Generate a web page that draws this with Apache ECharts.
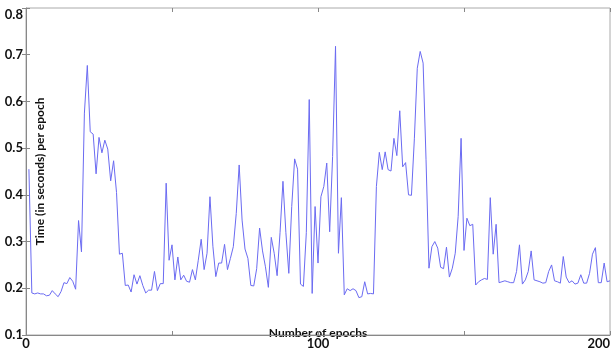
<!DOCTYPE html>
<html>
<head>
<meta charset="utf-8">
<script src="https://cdn.jsdelivr.net/npm/echarts@6/dist/echarts.min.js"></script>
<style>
html, body { margin: 0; padding: 0; background: #fff; }
#chart { width: 614px; height: 350px; }
</style>
</head>
<body>
<div id="chart"></div>
<script>
// time per epoch, epochs 1..200
var epochTimes = [
	0.455, 0.19, 0.188, 0.19, 0.188, 0.188, 0.184, 0.185, 0.195, 0.188,
	0.182, 0.193, 0.212, 0.21, 0.223, 0.215, 0.198, 0.345, 0.278, 0.575,
	0.677, 0.535, 0.53, 0.445, 0.523, 0.49, 0.517, 0.498, 0.43, 0.473,
	0.405, 0.273, 0.275, 0.206, 0.207, 0.192, 0.229, 0.209, 0.227, 0.206,
	0.19, 0.196, 0.196, 0.236, 0.195, 0.21, 0.21, 0.425, 0.26, 0.293,
	0.218, 0.267, 0.218, 0.228, 0.215, 0.213, 0.24, 0.218, 0.26, 0.305,
	0.24, 0.275, 0.396, 0.29, 0.225, 0.254, 0.254, 0.294, 0.24, 0.264,
	0.289, 0.36, 0.464, 0.346, 0.284, 0.264, 0.206, 0.205, 0.242, 0.329,
	0.28, 0.246, 0.202, 0.309, 0.275, 0.227, 0.319, 0.429, 0.319, 0.232,
	0.375, 0.477, 0.455, 0.209, 0.204, 0.319, 0.604, 0.189, 0.375, 0.254,
	0.396, 0.418, 0.468, 0.321, 0.482, 0.718, 0.275, 0.394, 0.186, 0.199,
	0.195, 0.199, 0.195, 0.18, 0.182, 0.214, 0.188, 0.189, 0.188, 0.418,
	0.491, 0.454, 0.492, 0.454, 0.451, 0.521, 0.484, 0.58, 0.46, 0.469,
	0.4, 0.399, 0.52, 0.671, 0.707, 0.682, 0.475, 0.243, 0.289, 0.3,
	0.286, 0.245, 0.242, 0.288, 0.224, 0.243, 0.275, 0.354, 0.521, 0.281,
	0.35, 0.334, 0.337, 0.207, 0.214, 0.218, 0.221, 0.219, 0.394, 0.273,
	0.337, 0.212, 0.214, 0.216, 0.214, 0.212, 0.212, 0.236, 0.293, 0.209,
	0.218, 0.236, 0.28, 0.218, 0.216, 0.214, 0.211, 0.212, 0.236, 0.25,
	0.216, 0.214, 0.211, 0.268, 0.224, 0.212, 0.216, 0.209, 0.211, 0.229,
	0.211, 0.211, 0.232, 0.273, 0.287, 0.212, 0.212, 0.254, 0.214, 0.216
];
var xLabelShown = [0, 100, 200];

var points = epochTimes.map(function(v, i){
	return [i + 1, v];
});

var fontFam = "Lato, 'Liberation Sans', sans-serif";
var chart = echarts.init(document.getElementById("chart"), null, {renderer: "canvas"});

var tickStyle = {show: true, inside: true, length: 4, lineStyle: {color: "#888"}};

chart.setOption({
	animation: false,
	backgroundColor: "#fff",
	grid: {
		left: 26, right: 4, top: 8, bottom: 15,
		containLabel: false,
		outerBoundsMode: "none",
		show: true, borderColor: "#aaa", borderWidth: 1
	},
	xAxis: [{
		type: "value",
		min: 0, max: 200, interval: 50,
		name: "Number of epochs",
		nameLocation: "middle",
		nameGap: -8,
		nameMoveOverlap: false,
		nameTextStyle: {fontFamily: fontFam, fontWeight: "bold", fontSize: 12, color: "#111"},
		axisLine: {show: true, lineStyle: {color: "#888"}},
		axisTick: tickStyle,
		splitLine: {show: false},
		axisLabel: {
			fontFamily: fontFam, fontWeight: "bold", fontSize: 13, color: "#111",
			margin: 2, alignMaxLabel: "right",
			formatter: function(v){
				return xLabelShown.indexOf(v) >= 0 ? String(v) : "";
			}
		}
	}, {
		type: "value", position: "top",
		min: 0, max: 200, interval: 50,
		axisLine: {show: false},
		axisTick: tickStyle,
		axisLabel: {show: false},
		splitLine: {show: false}
	}],
	yAxis: [{
		type: "value",
		min: 0.1, max: 0.8, interval: 0.1,
		name: "Time (in seconds) per epoch",
		nameLocation: "middle",
		nameGap: -20,
		nameMoveOverlap: false,
		nameTextStyle: {fontFamily: fontFam, fontWeight: "bold", fontSize: 12, color: "#111"},
		axisLine: {show: true, lineStyle: {color: "#888"}},
		axisTick: tickStyle,
		splitLine: {show: false},
		axisLabel: {
			fontFamily: fontFam, fontWeight: "bold", fontSize: 13, color: "#111",
			margin: 3,
			formatter: function(v){
				var s = v.toFixed(1);
				return v > 0.75 ? "{top|" + s + "}" : s;
			},
			rich: {
				top: {fontFamily: fontFam, fontWeight: "bold", fontSize: 13, color: "#111", padding: [14, 0, 0, 0]}
			}
		}
	}, {
		type: "value", position: "right",
		min: 0.1, max: 0.8, interval: 0.1,
		axisLine: {show: false},
		axisTick: tickStyle,
		axisLabel: {show: false},
		splitLine: {show: false}
	}],
	series: [{
		type: "line",
		data: points,
		showSymbol: false,
		lineStyle: {color: "#6b6bf2", width: 1},
		itemStyle: {color: "#6b6bf2"}
	}]
});
</script>
</body>
</html>
